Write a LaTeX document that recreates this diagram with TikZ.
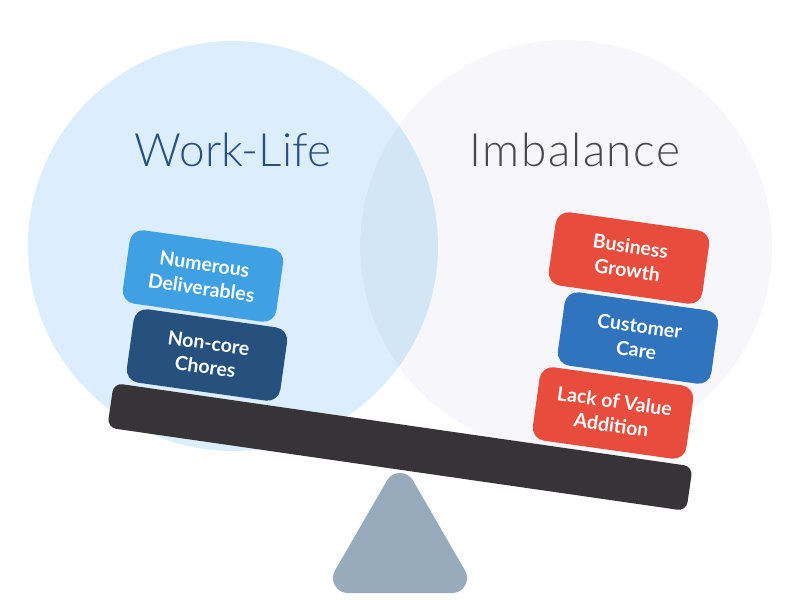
\documentclass[tikz,border=0pt]{standalone}
\usepackage{fontspec}
\setmainfont{Lato}
\newfontfamily\ttl{Lato Light}
\newfontfamily\ttlsp[LetterSpace=3]{Lato Light}
\usetikzlibrary{positioning}
\definecolor{cL}{HTML}{DCEEFE}
\definecolor{cR}{HTML}{F6F6FB}
\definecolor{cO}{HTML}{D3E6F6}
\definecolor{cLb}{HTML}{40A0E4}
\definecolor{cNv}{HTML}{26517F}
\definecolor{cRd}{HTML}{E74C3C}
\definecolor{cBl}{HTML}{2F74BC}
\definecolor{cBm}{HTML}{363437}
\definecolor{cTr}{HTML}{98ABBD}
\tikzset{
 block/.style={fill=#1,rounded corners=13pt,minimum width=155pt,minimum height=74pt,rotate=-8,text=white,align=center,inner sep=0pt,font=\fontsize{19.5}{24}\selectfont\bfseries},
 title/.style={inner sep=0pt},
}
\begin{document}
\begin{tikzpicture}[x=1pt,y=-1pt]
\useasboundingbox (0,0) rectangle (800,600);
\fill[white] (0,0) rectangle (800,600);
\node[circle,fill=cL,minimum size=410pt,inner sep=0pt] (cleft) at (233,246) {};
\node[circle,fill=cR,minimum size=412pt,inner sep=0pt] (cright) at (566,246) {};
\begin{scope}
\clip (233,246) circle[radius=205pt];
\fill[cO] (566,246) circle[radius=206pt];
\end{scope}
\node[title,text=cNv,font=\ttl\fontsize{46}{50}\selectfont] (tw) at (233,150) {Work-Life};
\node[title,text=cBm!90,font=\ttlsp\fontsize{46}{50}\selectfont] (ti) at (575,150) {Imbalance};
\node[block=cLb] (nd) at (203,276) {Numerous\\Deliverables};
\node[block=cNv] (nc) at (207,355) {Non-core\\Chores};
\node[block=cRd] (bg) at (629,258) {Business\\Growth};
\node[block=cBl] (cc) at (638,338) {Customer\\Care};
\node[block=cRd] (lv) at (613,413) {Lack of Value\\Addition};
\node[fill=cBm,rounded corners=9pt,minimum width=585pt,minimum height=45pt,rotate=-8.2,inner sep=0pt] (beam) at (400,447) {};
\draw[cTr,fill=cTr,line width=30pt,line join=round] (400,488) -- (452,578) -- (348,578) -- cycle;
\end{tikzpicture}
\end{document}
